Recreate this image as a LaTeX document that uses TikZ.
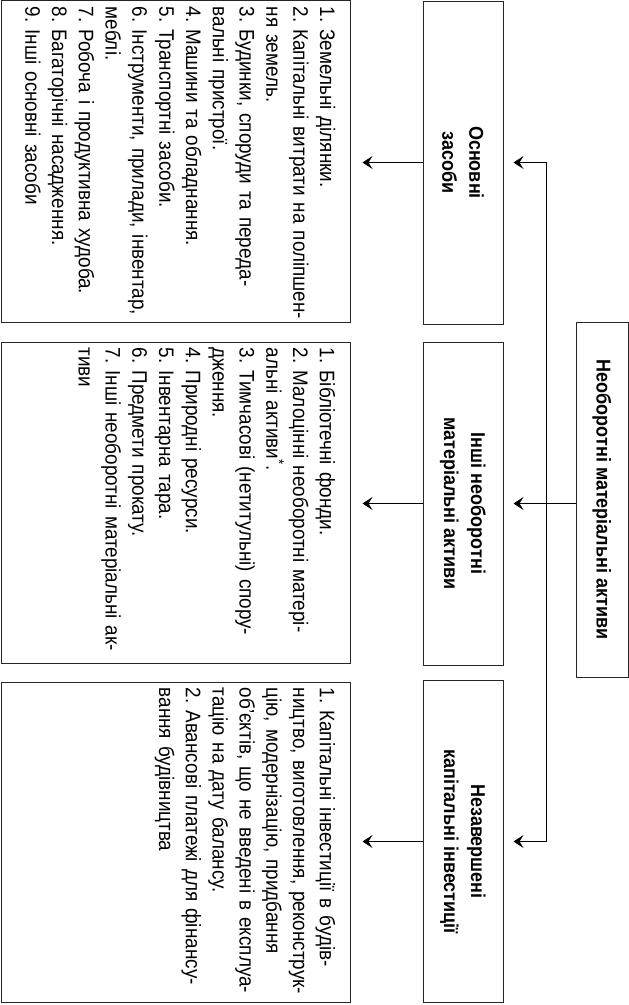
\documentclass[tikz,border=0pt]{standalone}
\usepackage{fontspec}
\setmainfont{Liberation Sans}[FakeStretch=0.9]
\usetikzlibrary{arrows.meta}
\frenchspacing
\newcommand\jl[1]{\makebox[\hsize][s]{#1}}
\begin{document}
\begin{tikzpicture}[x=1pt,y=-1pt,
  frame/.style={draw=black!85, line width=1pt, inner sep=0pt},
  bodytext/.style={rotate=-90, anchor=north west, inner sep=0pt, align=left,
    font=\frenchspacing\fontsize{21}{26.8}\selectfont},
  head/.style={frame, rotate=-90, align=center,
    font=\bfseries\fontsize{20}{27}\selectfont},
  arr/.style={-{Stealth[length=10pt,width=13pt,inset=4pt]}, line width=1pt},
]
\useasboundingbox (0,0) rectangle (629,1005);
% main box
\node[head, minimum width=355pt, minimum height=52pt] (m) at (602,499.5) {Необоротні матеріальні активи};
% middle boxes
\node[head, minimum width=323pt, minimum height=80pt] (o) at (463,162.5) {Основні\\засоби};
\node[head, minimum width=323pt, minimum height=80pt] (i2) at (463,503.5) {Інші необоротні\\матеріальні активи};
\node[head, minimum width=322pt, minimum height=80pt] (n) at (463,841.5) {Незавершені\\капітальні інвестиції};
% left boxes
\node[frame, minimum width=349pt, minimum height=322pt] (l1) at (175.5,161) {};
\node[frame, minimum width=349pt, minimum height=321pt] (l2) at (175.5,502.5) {};
\node[frame, minimum width=349pt, minimum height=320pt] (l3) at (175.5,842) {};
\node[bodytext, text width=296pt] (t1) at ([xshift=-15pt,yshift=-7pt]l1.north east) {%
1. Земельні ділянки.\\
\jl{2. Капітальні витрати на поліпшен-}\\
ня земель.\\
\jl{3. Будинки, споруди та переда-}\\
вальні пристрої.\\
4. Машини та обладнання.\\
5. Транспортні засоби.\\
\jl{6. Інструменти, прилади, інвентар,}\\
меблі.\\
7. Робоча і продуктивна худоба.\\
8. Багаторічні насадження.\\
9. Інші основні засоби};
\node[bodytext, text width=297pt] (t2) at ([xshift=-15pt,yshift=-6pt]l2.north east) {%
1. Бібліотечні фонди.\\
\jl{2. Малоцінні необоротні матері-}\\
альні активи\textsuperscript{*}.\\
\jl{3. Тимчасові (нетитульні) спору-}\\
дження.\\
4. Природні ресурси.\\
5. Інвентарна тара.\\
6. Предмети прокату.\\
\jl{7. Інші необоротні матеріальні ак-}\\
тиви};
\node[bodytext, text width=304pt] (t3) at ([xshift=-15pt,yshift=-6pt]l3.north east) {%
\jl{1. Капітальні інвестиції в будів-}\\
\jl{ництво, виготовлення, реконструк-}\\
\jl{цію, модернізацію, придбання}\\
\jl{об’єктів, що не введені в експлуа-}\\
тацію на дату балансу.\\
\jl{2. Авансові платежі для фінансу-}\\
вання будівництва};
% connectors
\coordinate (bt) at ([xshift=43pt]o.north);
\coordinate (bb) at ([xshift=43pt]n.north);
\draw[line width=1pt] (bt) -- (bb);
\draw[arr] (bt) -- ([xshift=10pt]o.north);
\draw[arr] (bb) -- ([xshift=10pt]n.north);
\draw[arr] (m.south |- i2.north) -- ([xshift=10pt]i2.north);
\draw[arr] (o.south) -- ([xshift=12pt]o.south -| l1.east);
\draw[arr] (i2.south) -- ([xshift=12pt]i2.south -| l2.east);
\draw[arr] (n.south) -- ([xshift=12pt]n.south -| l3.east);
\end{tikzpicture}
\end{document}
